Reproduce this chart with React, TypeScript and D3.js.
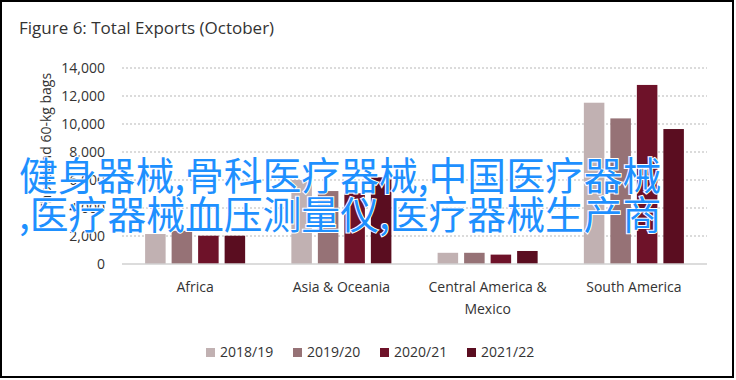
import React from 'react';
import * as d3 from 'd3';

const titleText = 'Figure 6: Total Exports (October)';
const yAxisLabel = 'Thousand 60-kg bags';
const categories = ['Africa', 'Asia & Oceania', 'Central America & Mexico', 'South America'];
const categoryLines = [['Africa'], ['Asia & Oceania'], ['Central America &', 'Mexico'], ['South America']];
const seriesNames = ['2018/19', '2019/20', '2020/21', '2021/22'];
const values2018 = [2140, 6000, 800, 11520];
const values2019 = [2370, 5210, 800, 10400];
const values2020 = [2020, 5050, 670, 12790];
const values2021 = [2020, 6190, 930, 9640];
const yTicks = [0, 2000, 4000, 6000, 8000, 10000, 12000, 14000];
const seriesColors = ['#C1B1B2', '#967276', '#6E1229', '#5A0D20'];
const overlayLines = ['健身器械,骨科医疗器械,中国医疗器械', ',医疗器械血压测量仪,医疗器械生产商'];

const W = 736;
const H = 380;
const FONT = "'Open Sans', 'Noto Sans', sans-serif";

export default function App() {
  const seriesValues = [values2018, values2019, values2020, values2021];
  const x0 = d3.scaleBand<string>().domain(categories).range([122, 707]).paddingInner(0.316).paddingOuter(0.158);
  const x1 = d3.scaleBand<string>().domain(seriesNames).range([0, x0.bandwidth()]).paddingInner(0.226).paddingOuter(0);
  const y = d3.scaleLinear().domain([0, 14000]).range([264, 68]);
  const fmt = d3.format(',');

  return (
    <svg width={W} height={H} style={{ position: 'absolute', left: 0, top: 0, background: '#fff' }} fontFamily={FONT}>
      <rect x={0} y={0} width={W} height={H} fill="#fff" />
      <rect x={1} y={1} width={732} height={376} fill="none" stroke="#000" strokeWidth={2} />
      <text x={19} y={34} fontSize={17} fill="#333">{titleText}</text>

      {yTicks.filter((t) => t > 0).map((t) => (
        <line key={'g' + t} x1={122} x2={707} y1={y(t)} y2={y(t)} stroke="#cfcfcf" strokeWidth={1.5} strokeDasharray="2 2" />
      ))}

      {categories.map((c, ci) => (
        <g key={c} transform={`translate(${x0(c)},0)`}>
          {seriesNames.map((s, si) => (
            <rect key={s} x={x1(s)} y={y(seriesValues[si][ci])} width={x1.bandwidth()} height={y(0) - y(seriesValues[si][ci])} fill={seriesColors[si]} />
          ))}
        </g>
      ))}

      <line x1={122} x2={707} y1={y(0)} y2={y(0)} stroke="#d0d0d0" strokeWidth={1.5} />

      {yTicks.map((t) => (
        <text key={'t' + t} x={105} y={y(t)} dy="0.35em" textAnchor="end" fontSize={14} fill="#333">{fmt(t)}</text>
      ))}

      <text transform={`translate(51,142) rotate(-90)`} textAnchor="middle" fontSize={14} fill="#333">{yAxisLabel}</text>

      {categories.map((c, ci) => (
        <text key={'c' + c} x={(x0(c) as number) + x0.bandwidth() / 2} y={292} textAnchor="middle" fontSize={14} fill="#333">
          {categoryLines[ci].map((line, li) => (
            <tspan key={li} x={(x0(c) as number) + x0.bandwidth() / 2} dy={li === 0 ? 0 : 22}>{line}</tspan>
          ))}
        </text>
      ))}

      {seriesNames.map((s, si) => (
        <g key={'l' + s} transform={`translate(${206 + si * 87},348)`}>
          <rect x={0} y={0} width={9} height={9} fill={seriesColors[si]} />
          <text x={14} y={4.5} dy="0.35em" fontSize={14} fill="#333">{s}</text>
        </g>
      ))}

      {overlayLines.map((line, i) => (
        <text key={'o' + i} x={19} y={190 + i * 39} fontSize={38.8} fontFamily="'Noto Sans CJK SC', sans-serif" fill="#1E90FF" stroke="#fff" strokeWidth={2} style={{ paintOrder: 'stroke' }}>{line}</text>
      ))}
    </svg>
  );
}
